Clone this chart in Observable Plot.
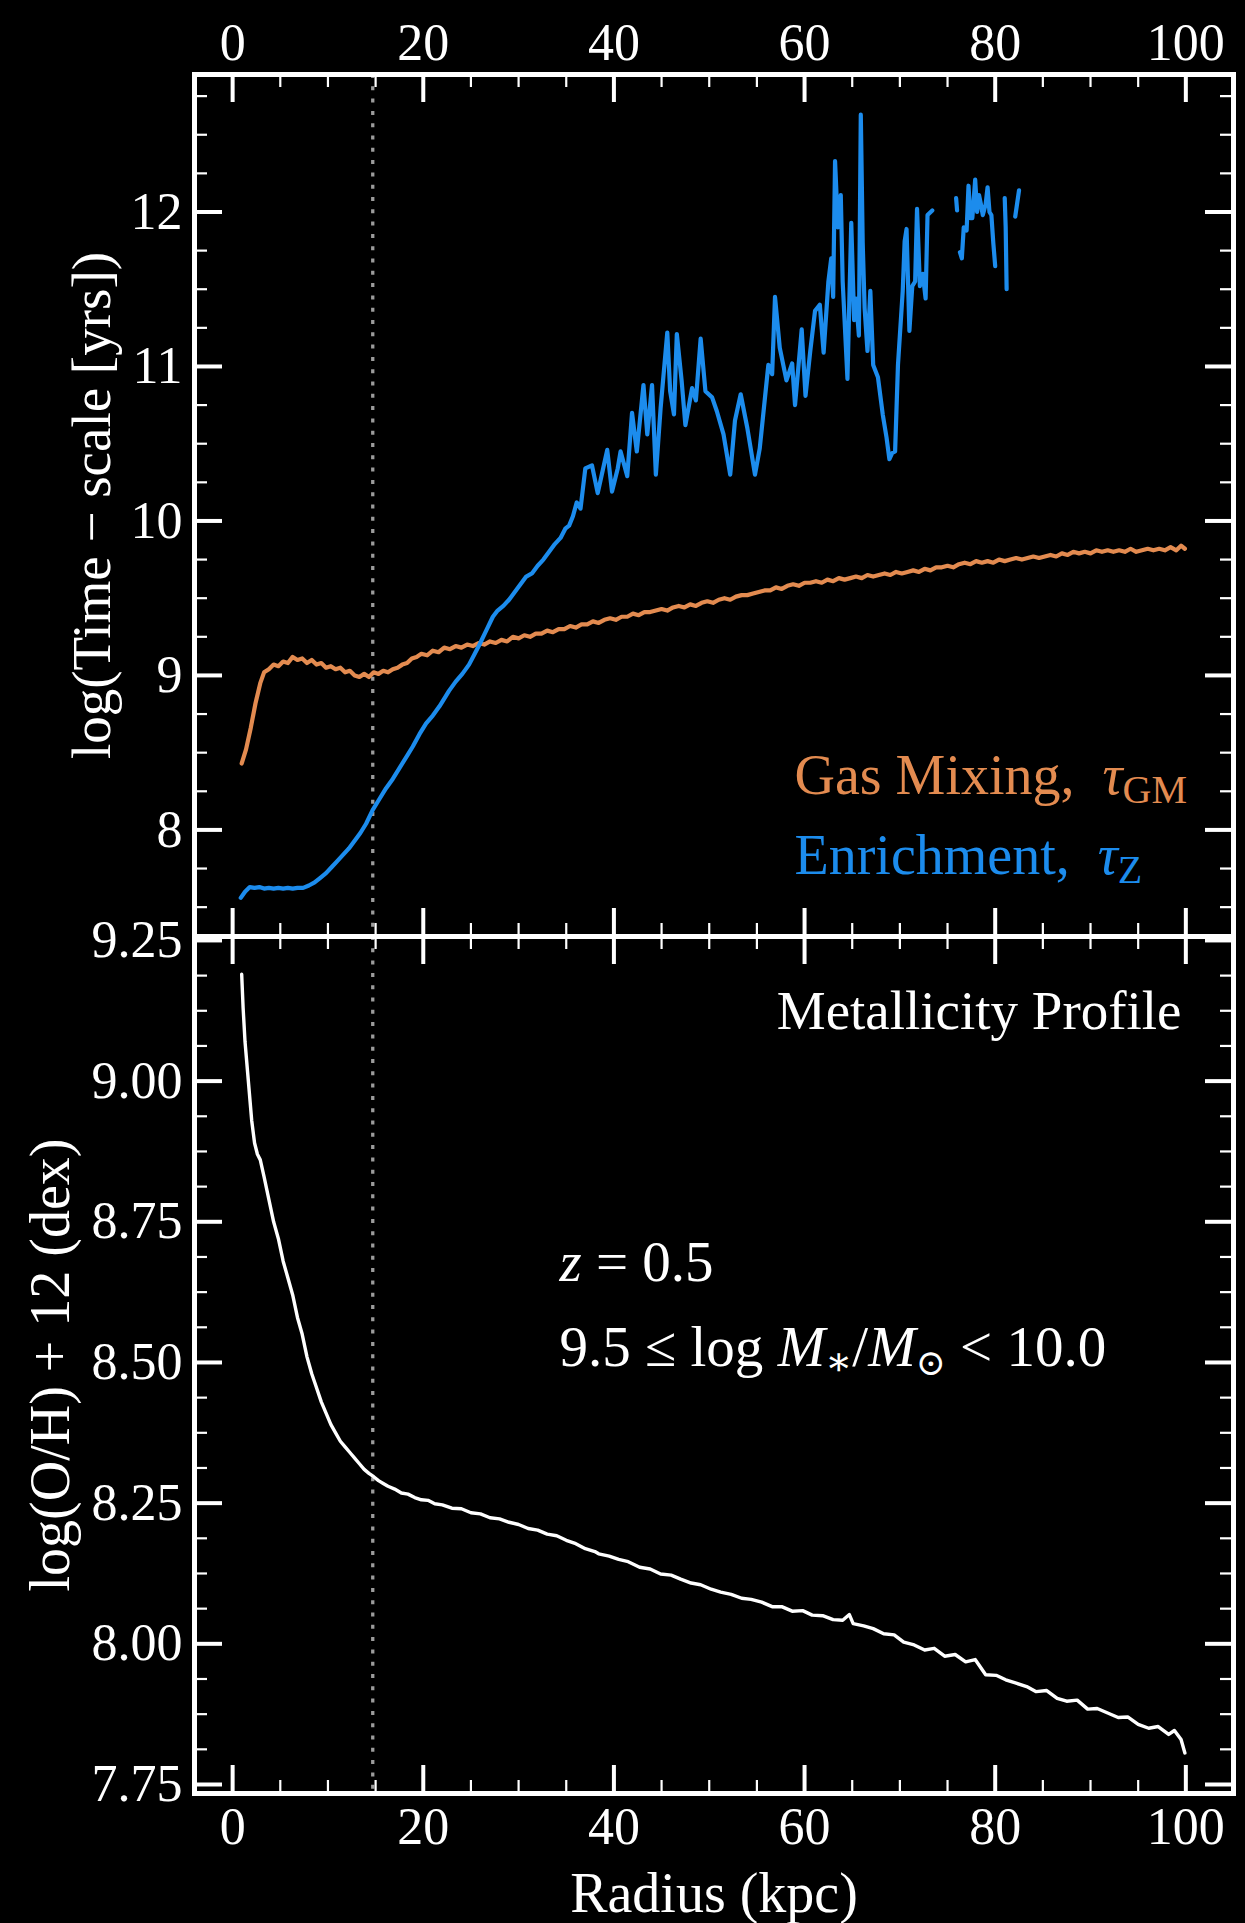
<!DOCTYPE html>
<html>
<head>
<meta charset="utf-8">
<script src="https://cdn.jsdelivr.net/npm/d3@7"></script>
<script src="https://cdn.jsdelivr.net/npm/@observablehq/plot@0.6"></script>
<style>
  html, body { margin: 0; padding: 0; background: #000; }
  #chart { position: relative; width: 1245px; height: 1923px; background: #000; overflow: hidden; }
  #chart svg { position: absolute; left: 0; }
</style>
</head>
<body>
<div id="chart"></div>
<script>
// ---------------- DATA ----------------
const xTicks = [0, 20, 40, 60, 80, 100];
const xMinorTicks = [5, 10, 15, 25, 30, 35, 45, 50, 55, 65, 70, 75, 85, 90, 95];
const topYTicks = [8, 9, 10, 11, 12];
const topYMinorTicks = [7.5, 7.75, 8.25, 8.5, 8.75, 9.25, 9.5, 9.75, 10.25, 10.5, 10.75, 11.25, 11.5, 11.75, 12.25, 12.5, 12.75];
const bottomYTicks = [7.75, 8.00, 8.25, 8.50, 8.75, 9.00, 9.25];
const bottomYMinorTicks = [7.8125, 7.875, 7.9375, 8.0625, 8.125, 8.1875, 8.3125, 8.375, 8.4375, 8.5625, 8.625, 8.6875, 8.8125, 8.875, 8.9375, 9.0625, 9.125, 9.1875];
const effectiveRadius = 14.7;

// Gas mixing time-scale, [radius kpc, log tau_GM]
const gasMixing = [[0.95,8.43],[1.4,8.52],[1.9,8.66],[2.4,8.82],[2.9,8.95],[3.3,9.02],[3.8,9.04],[4.3,9.07],[4.8,9.06],[5.3,9.09],[5.8,9.08],[6.3,9.12],[6.8,9.10],[7.3,9.11],[7.8,9.08],[8.3,9.10],[8.8,9.07],[9.3,9.08],[9.8,9.05],[10.3,9.06],[10.8,9.04],[11.3,9.05],[11.8,9.02],[12.3,9.03],[12.8,9.00],[13.3,8.99],[13.8,9.01],[14.3,8.99],[14.8,9.02],[15.3,9.01],[15.8,9.03],[16.3,9.02],[16.8,9.04],[17.3,9.05],[17.8,9.07],[18.3,9.08],[18.8,9.11],[19.3,9.12],[19.8,9.14],[20.4,9.13],[21.0,9.16],[21.6,9.15],[22.2,9.18],[22.8,9.17],[23.4,9.19],[24.0,9.18],[24.6,9.20],[25.2,9.19],[25.8,9.21],[26.4,9.20],[27.0,9.22],[27.6,9.21],[28.2,9.23],[28.8,9.22],[29.4,9.25],[30.0,9.24],[30.6,9.26],[31.2,9.25],[31.8,9.27],[32.4,9.27],[33.0,9.29],[33.6,9.28],[34.2,9.30],[34.8,9.30],[35.4,9.32],[36.0,9.31],[36.6,9.33],[37.2,9.33],[37.8,9.35],[38.4,9.34],[39.0,9.36],[39.6,9.37],[40.2,9.36],[40.8,9.38],[41.4,9.38],[42.0,9.40],[42.6,9.39],[43.2,9.41],[43.8,9.41],[44.4,9.42],[45.0,9.43],[45.6,9.42],[46.2,9.44],[46.8,9.45],[47.4,9.44],[48.0,9.46],[48.6,9.45],[49.2,9.47],[49.8,9.48],[50.4,9.47],[51.0,9.49],[51.6,9.50],[52.2,9.49],[52.8,9.51],[53.4,9.52],[54.0,9.52],[54.6,9.53],[55.2,9.54],[55.8,9.55],[56.4,9.55],[57.0,9.57],[57.6,9.56],[58.2,9.58],[58.8,9.59],[59.4,9.58],[60.0,9.60],[60.6,9.60],[61.2,9.61],[61.8,9.60],[62.4,9.62],[63.0,9.61],[63.6,9.63],[64.2,9.62],[64.8,9.63],[65.4,9.64],[66.0,9.63],[66.6,9.65],[67.2,9.64],[67.8,9.65],[68.4,9.66],[69.0,9.65],[69.6,9.67],[70.2,9.66],[70.8,9.67],[71.4,9.68],[72.0,9.67],[72.6,9.69],[73.2,9.68],[73.8,9.70],[74.4,9.70],[75.0,9.71],[75.6,9.70],[76.2,9.72],[76.8,9.73],[77.4,9.72],[78.0,9.74],[78.6,9.73],[79.2,9.74],[79.8,9.73],[80.4,9.75],[81.0,9.74],[81.6,9.75],[82.2,9.76],[82.8,9.75],[83.4,9.76],[84.0,9.77],[84.6,9.76],[85.2,9.77],[85.8,9.78],[86.4,9.77],[87.0,9.79],[87.6,9.78],[88.2,9.80],[88.8,9.79],[89.4,9.80],[90.0,9.79],[90.6,9.81],[91.2,9.80],[91.8,9.81],[92.4,9.80],[93.0,9.81],[93.6,9.80],[94.2,9.82],[94.8,9.80],[95.4,9.81],[96.0,9.82],[96.6,9.81],[97.2,9.82],[97.8,9.81],[98.4,9.83],[99.0,9.81],[99.5,9.84],[99.9,9.82]];

// Enrichment time-scale, [radius kpc, log tau_Z]; null = no value (gap)
const enrichment = [[0.85,7.56],[1.3,7.60],[1.8,7.63],[2.3,7.625],[2.8,7.63],[3.3,7.62],[3.8,7.625],[4.3,7.62],[4.8,7.625],[5.3,7.62],[5.8,7.625],[6.3,7.62],[6.8,7.625],[7.4,7.625],[8.0,7.64],[8.6,7.66],[9.2,7.69],[9.8,7.72],[10.4,7.76],[11.0,7.80],[11.6,7.84],[12.2,7.88],[12.8,7.93],[13.4,7.98],[14.0,8.04],[14.7,8.13],[15.4,8.20],[16.1,8.27],[16.8,8.33],[17.5,8.40],[18.2,8.47],[18.9,8.54],[19.6,8.62],[20.3,8.69],[21.0,8.74],[21.7,8.80],[22.3,8.86],[22.7,8.90],[23.4,8.96],[24.1,9.01],[24.8,9.07],[25.4,9.14],[25.9,9.20],[26.6,9.29],[27.3,9.38],[27.8,9.42],[28.4,9.45],[29.0,9.49],[29.6,9.54],[30.2,9.59],[30.8,9.64],[31.4,9.66],[32.0,9.71],[32.6,9.75],[33.2,9.80],[33.8,9.85],[34.4,9.89],[34.9,9.95],[35.3,9.97],[35.7,10.03],[36.1,10.12],[36.5,10.08],[37.0,10.34],[37.7,10.36],[38.3,10.18],[38.8,10.32],[39.3,10.46],[39.8,10.19],[40.4,10.34],[40.7,10.45],[41.4,10.29],[41.9,10.70],[42.4,10.45],[43.1,10.88],[43.5,10.56],[44.0,10.88],[44.4,10.30],[44.9,10.73],[45.6,11.22],[45.9,10.84],[46.3,10.69],[46.6,11.21],[47.1,10.91],[47.5,10.62],[48.2,10.86],[48.6,10.78],[49.1,11.18],[49.6,10.84],[50.3,10.80],[50.8,10.71],[51.5,10.56],[52.2,10.30],[52.7,10.65],[53.3,10.82],[54.0,10.60],[54.8,10.30],[55.3,10.47],[56.2,11.01],[56.6,10.95],[56.9,11.45],[57.4,11.12],[58.1,10.91],[58.7,11.02],[59.0,10.75],[59.7,11.24],[60.1,10.81],[60.6,11.10],[61.1,11.36],[61.6,11.40],[62.0,11.09],[62.5,11.55],[62.8,11.70],[63.0,11.45],[63.2,12.33],[63.5,11.90],[63.8,12.11],[64.0,11.55],[64.5,10.92],[64.9,11.93],[65.2,11.30],[65.4,11.44],[65.7,11.20],[65.9,12.63],[66.1,11.80],[66.3,11.38],[66.6,11.10],[66.9,11.49],[67.2,11.01],[67.7,10.93],[68.2,10.69],[68.6,10.54],[68.9,10.40],[69.2,10.44],[69.5,10.45],[69.8,11.01],[70.3,11.49],[70.5,11.81],[70.7,11.89],[71.0,11.23],[71.3,11.52],[71.6,11.55],[71.8,12.02],[72.1,11.52],[72.4,11.60],[72.7,11.44],[72.9,11.98],[73.4,12.01],[74.0,null],[75.9,12.09],[76.0,12.01],[76.1,null],[76.3,11.74],[76.5,11.70],[76.7,11.90],[77.0,11.88],[77.2,12.17],[77.4,11.96],[77.6,11.96],[77.9,12.21],[78.1,12.00],[78.3,12.11],[78.5,12.05],[78.7,11.98],[79.0,12.05],[79.2,12.16],[79.4,12.00],[79.6,11.98],[79.8,11.80],[80.0,11.65],[80.5,null],[81.0,12.09],[81.1,11.90],[81.2,11.50],[81.6,null],[82.1,11.97],[82.5,12.14]];

// Metallicity profile, [radius kpc, log(O/H)+12]
const metallicity = [[0.95,9.19],[1.1,9.13],[1.3,9.07],[1.5,9.03],[1.7,8.99],[2.0,8.93],[2.3,8.89],[2.6,8.87],[2.9,8.86],[3.3,8.83],[3.8,8.79],[4.3,8.75],[4.8,8.72],[5.3,8.68],[5.8,8.65],[6.3,8.62],[6.8,8.58],[7.3,8.55],[7.8,8.51],[8.3,8.48],[8.8,8.455],[9.3,8.43],[9.8,8.41],[10.3,8.39],[10.8,8.375],[11.3,8.36],[11.8,8.35],[12.3,8.34],[12.8,8.33],[13.3,8.32],[13.8,8.31],[14.3,8.303],[14.8,8.297],[15.3,8.29],[15.8,8.285],[16.3,8.28],[17.0,8.275],[17.7,8.268],[18.4,8.266],[19.1,8.26],[19.8,8.256],[20.5,8.255],[21.2,8.249],[22.0,8.247],[23.0,8.241],[24.0,8.240],[25.0,8.233],[26.0,8.231],[27.0,8.224],[28.0,8.222],[29.0,8.216],[30.0,8.212],[31.0,8.205],[32.0,8.202],[33.0,8.195],[34.0,8.192],[35.0,8.184],[36.0,8.178],[37.0,8.169],[38.0,8.164],[38.4,8.160],[39.5,8.156],[40.5,8.150],[41.5,8.146],[42.7,8.136],[43.8,8.133],[44.9,8.124],[46.0,8.122],[47.0,8.115],[48.1,8.108],[49.1,8.105],[50.2,8.097],[51.2,8.092],[52.3,8.088],[53.4,8.081],[54.4,8.079],[55.5,8.074],[56.6,8.066],[57.6,8.066],[58.7,8.058],[59.8,8.059],[60.8,8.051],[61.9,8.050],[63.0,8.043],[64.0,8.042],[64.7,8.052],[65.1,8.036],[66.2,8.032],[67.2,8.027],[68.3,8.018],[69.4,8.016],[70.4,8.003],[71.5,7.998],[72.6,7.989],[73.6,7.992],[74.7,7.978],[75.8,7.981],[76.9,7.968],[77.9,7.972],[79.0,7.945],[80.1,7.944],[81.1,7.936],[82.2,7.930],[83.3,7.924],[84.3,7.915],[85.4,7.917],[86.5,7.903],[87.5,7.898],[88.6,7.900],[89.7,7.884],[90.7,7.885],[91.8,7.877],[92.9,7.869],[93.9,7.870],[95.0,7.857],[96.1,7.850],[97.1,7.853],[98.2,7.839],[98.8,7.846],[99.5,7.830],[99.9,7.806]];

// ---------------- STYLE ----------------
const FONT = "'Liberation Serif', 'DejaVu Serif', serif";
const ORANGE = "#e38b50";
const BLUE = "#1c8ced";
const W = 1245;
const ML = 194, MR = 12;
const innerW = W - ML - MR;
const MAJ = 28, MIN = 13;

const toObj = arr => arr.map(([r, v]) => ({r, v}));

function tickMarks(innerH, yMajor, yMinor) {
  const s = {stroke: "white"};
  return [
    Plot.ruleX(xTicks, {x: d => d, insetBottom: innerH - MAJ, strokeWidth: 4, ...s}),
    Plot.ruleX(xTicks, {x: d => d, insetTop: innerH - MAJ, strokeWidth: 4, ...s}),
    Plot.ruleX(xMinorTicks, {x: d => d, insetBottom: innerH - MIN, strokeWidth: 2.2, ...s}),
    Plot.ruleX(xMinorTicks, {x: d => d, insetTop: innerH - MIN, strokeWidth: 2.2, ...s}),
    Plot.ruleY(yMajor, {y: d => d, insetRight: innerW - MAJ, strokeWidth: 4, ...s}),
    Plot.ruleY(yMajor, {y: d => d, insetLeft: innerW - MAJ, strokeWidth: 4, ...s}),
    Plot.ruleY(yMinor, {y: d => d, insetRight: innerW - MIN, strokeWidth: 2.2, ...s}),
    Plot.ruleY(yMinor, {y: d => d, insetLeft: innerW - MIN, strokeWidth: 2.2, ...s})
  ];
}

function richify(svg, plain, parts) {
  d3.select(svg).selectAll("text").filter(function () { return this.textContent === plain; }).each(function () {
    const t = d3.select(this);
    t.text(null);
    for (const p of parts) {
      const s = t.append("tspan").text(p.t);
      if (p.i) s.attr("font-style", "italic");
      if (p.fs) s.attr("font-size", p.fs);
      if (p.dy) s.attr("dy", p.dy);
    }
  });
}

const chartEl = document.getElementById("chart");

// ---------------- TOP PANEL ----------------
// frame spans page y 74 .. 936
const topH = 960, topMT = 74, topMB = 24;
const topInnerH = topH - topMT - topMB;
const topPlot = Plot.plot({
  width: W, height: topH,
  marginLeft: ML, marginRight: MR, marginTop: topMT, marginBottom: topMB,
  style: {background: "transparent", color: "white", fontFamily: FONT, fontSize: "52px", overflow: "visible"},
  x: {domain: [-4, 105]},
  y: {domain: [7.31, 12.89]},
  marks: [
    Plot.ruleX([effectiveRadius], {x: d => d, stroke: "#9c9c9c", strokeWidth: 3.3, strokeDasharray: "4,8.3"}),
    Plot.line(toObj(gasMixing), {x: "r", y: "v", stroke: ORANGE, strokeWidth: 4.2, strokeLinejoin: "round"}),
    Plot.line(toObj(enrichment), {x: "r", y: "v", stroke: BLUE, strokeWidth: 4.2, strokeLinejoin: "round"}),
    ...tickMarks(topInnerH, topYTicks, topYMinorTicks),
    Plot.frame({stroke: "white", strokeWidth: 5}),
    Plot.axisX(xTicks, {anchor: "top", tickSize: 0, tickPadding: 15, label: null, fontSize: 52, fill: "white"}),
    Plot.axisY(topYTicks, {anchor: "left", tickSize: 0, tickPadding: 12, label: null, tickFormat: d3.format("d"), fontSize: 52, fill: "white"}),
    Plot.text(["log(Time − scale [yrs])"], {text: d => d, frameAnchor: "left", dx: -102, rotate: -90, textAnchor: "middle", lineAnchor: "middle", fill: "white", fontSize: 55}),
    Plot.text(["Gas Mixing, τGM"], {text: d => d, frameAnchor: "top-left", dx: 600, dy: 719, textAnchor: "start", lineAnchor: "bottom", fill: ORANGE, fontSize: 56}),
    Plot.text(["Enrichment, τZ"], {text: d => d, frameAnchor: "top-left", dx: 600, dy: 799, textAnchor: "start", lineAnchor: "bottom", fill: BLUE, fontSize: 56})
  ]
});
topPlot.style.top = "0px";
chartEl.appendChild(topPlot);
richify(topPlot, "Gas Mixing, τGM", [{t: "Gas Mixing,  "}, {t: "τ", i: true}, {t: "GM", fs: 40, dy: 9}]);
richify(topPlot, "Enrichment, τZ", [{t: "Enrichment,  "}, {t: "τ", i: true}, {t: "Z", fs: 40, dy: 9}]);

// ---------------- BOTTOM PANEL ----------------
// frame spans page y 936 .. 1793
const botTop = 880, botH = 1923 - botTop, botMT = 56, botMB = 130;
const botInnerH = botH - botMT - botMB;
const bottomPlot = Plot.plot({
  width: W, height: botH,
  marginLeft: ML, marginRight: MR, marginTop: botMT, marginBottom: botMB,
  style: {background: "transparent", color: "white", fontFamily: FONT, fontSize: "52px", overflow: "visible"},
  x: {domain: [-4, 105]},
  y: {domain: [7.734, 9.257]},
  marks: [
    Plot.ruleX([effectiveRadius], {x: d => d, stroke: "#9c9c9c", strokeWidth: 3.3, strokeDasharray: "4,8.3"}),
    Plot.line(toObj(metallicity), {x: "r", y: "v", stroke: "white", strokeWidth: 3.4, strokeLinejoin: "round"}),
    ...tickMarks(botInnerH, bottomYTicks, bottomYMinorTicks),
    Plot.frame({stroke: "white", strokeWidth: 5}),
    Plot.axisX(xTicks, {anchor: "bottom", tickSize: 0, tickPadding: 14, label: null, fontSize: 52, fill: "white"}),
    Plot.axisY(bottomYTicks, {anchor: "left", tickSize: 0, tickPadding: 12, label: null, tickFormat: d3.format(".2f"), fontSize: 52, fill: "white"}),
    Plot.text(["log(O/H) + 12 (dex)"], {text: d => d, frameAnchor: "left", dx: -143, rotate: -90, textAnchor: "middle", lineAnchor: "middle", fill: "white", fontSize: 56}),
    Plot.text(["Radius (kpc)"], {text: d => d, frameAnchor: "bottom", dy: 118, textAnchor: "middle", lineAnchor: "bottom", fill: "white", fontSize: 56}),
    Plot.text(["Metallicity Profile"], {text: d => d, frameAnchor: "top-right", dx: -52, dy: 92, textAnchor: "end", lineAnchor: "bottom", fill: "white", fontSize: 55}),
    Plot.text(["z = 0.5"], {text: d => d, frameAnchor: "top-left", dx: 365, dy: 344, textAnchor: "start", lineAnchor: "bottom", fill: "white", fontSize: 57}),
    Plot.text(["9.5 ≤ log M∗/M⊙ < 10.0"], {text: d => d, frameAnchor: "top-left", dx: 365, dy: 429, textAnchor: "start", lineAnchor: "bottom", fill: "white", fontSize: 57})
  ]
});
bottomPlot.style.top = botTop + "px";
chartEl.appendChild(bottomPlot);
richify(bottomPlot, "z = 0.5", [{t: "z", i: true}, {t: " = 0.5"}]);
richify(bottomPlot, "9.5 ≤ log M∗/M⊙ < 10.0", [
  {t: "9.5 ≤ log "}, {t: "M", i: true}, {t: "∗", fs: 40, dy: 9}, {t: "/", dy: -9},
  {t: "M", i: true}, {t: "⊙", fs: 36, dy: 9}, {t: " < 10.0", dy: -9}
]);
</script>
</body>
</html>
